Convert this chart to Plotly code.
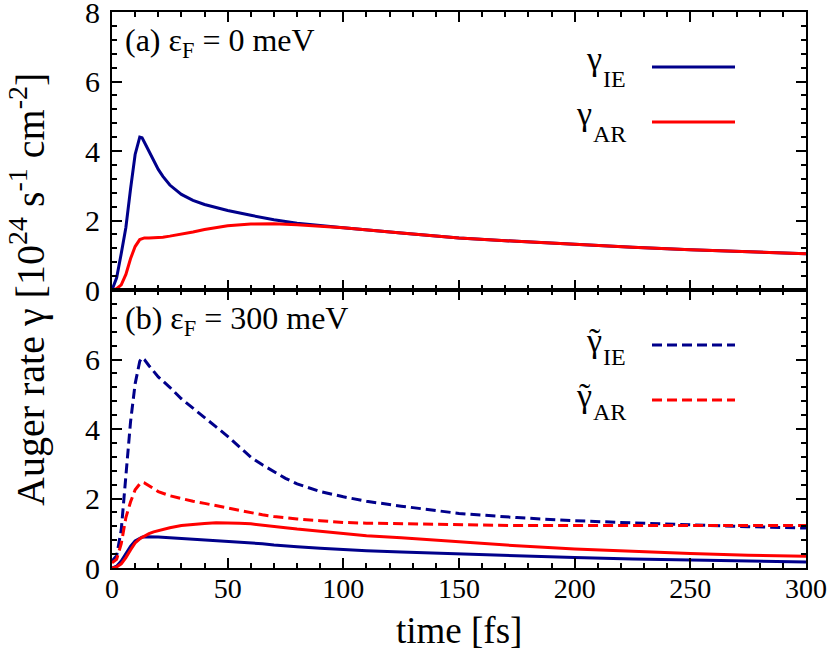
import plotly.graph_objects as go
from plotly.subplots import make_subplots

# ---- data ----
t_top = [0, 2, 4, 6, 8, 10, 12, 13, 14, 16, 18, 20, 22, 25, 30, 35, 40, 45, 50, 60, 70, 80, 90,
         100, 125, 150, 175, 200, 225, 250, 275, 300]
gamma_IE = [0, 0.35, 1.05, 1.8, 2.9, 3.9, 4.4, 4.38, 4.25, 4.0, 3.72, 3.47, 3.27, 3.02, 2.75,
            2.58, 2.46, 2.37, 2.29, 2.15, 2.02, 1.92, 1.85,
            1.79, 1.64, 1.5, 1.4, 1.31, 1.23, 1.16, 1.1, 1.04]
gamma_AR = [0, 0.04, 0.15, 0.45, 0.9, 1.25, 1.45, 1.48, 1.5, 1.5, 1.5, 1.51, 1.52, 1.55, 1.6,
            1.67, 1.74, 1.8, 1.85, 1.9, 1.91, 1.88, 1.83,
            1.79, 1.64, 1.5, 1.4, 1.31, 1.23, 1.16, 1.1, 1.04]

t_bot = [0, 2, 4, 6, 8, 10, 12, 13, 14, 16, 18, 20, 25, 30, 35, 40, 45, 50, 55, 60, 65, 70, 75,
         80, 90, 100, 110, 125, 150, 175, 200, 225, 250, 275, 300]
gamma_IE_t = [0.2, 0.35, 1.1, 2.7, 4.2, 5.3, 5.95, 6.05, 6.0, 5.82, 5.66, 5.5, 5.2, 4.87, 4.6,
              4.34, 4.06, 3.79, 3.5, 3.19, 2.97, 2.78, 2.58, 2.42, 2.2, 2.05, 1.92, 1.78, 1.57,
              1.45, 1.36, 1.3, 1.24, 1.19, 1.15]
gamma_AR_t = [0.15, 0.25, 0.7, 1.45, 1.9, 2.25, 2.42, 2.47, 2.45, 2.36, 2.28, 2.2, 2.08, 1.99,
              1.92, 1.86, 1.79, 1.72, 1.65, 1.59, 1.53, 1.48, 1.44, 1.41, 1.36, 1.31, 1.29, 1.27,
              1.24, 1.22, 1.22, 1.22, 1.22, 1.22, 1.22]
gamma_IE_b = [0, 0.05, 0.2, 0.42, 0.62, 0.78, 0.87, 0.89, 0.9, 0.9, 0.9, 0.89, 0.87, 0.85, 0.83,
              0.81, 0.79, 0.77, 0.75, 0.73, 0.7, 0.66, 0.63, 0.61, 0.57, 0.53, 0.5, 0.46, 0.4,
              0.35, 0.3, 0.26, 0.23, 0.2, 0.17]
gamma_AR_b = [0, 0.03, 0.12, 0.3, 0.52, 0.72, 0.84, 0.88, 0.92, 0.99, 1.04, 1.08, 1.16, 1.22,
              1.26, 1.28, 1.3, 1.3, 1.29, 1.27, 1.24, 1.2, 1.16, 1.12, 1.05, 0.98, 0.93, 0.87,
              0.75, 0.64, 0.55, 0.48, 0.42, 0.37, 0.34]

x_ticks = [0, 50, 100, 150, 200, 250, 300]
y_ticks_top = [0, 2, 4, 6, 8]
y_ticks_bot = [0, 2, 4, 6]

BLUE = "#00008b"
RED = "#ff0000"
FONT = "Liberation Serif"
DASH = "10px,5px"

# figure geometry (pixels)
W, H = 830, 656
ML, MR, MT, MB = 112, 24, 12, 88
PX0, PX1 = ML, W - MR
PY0, PY1 = MT, H - MB
PMID = (PY0 + PY1) / 2


def dx(px):
    return (px - PX0) / (PX1 - PX0)


def dy_top(py):
    return (PMID - py) / (PMID - PY0)


def dy_bot(py):
    return (PY1 - py) / (PY1 - PMID)


def center_from_baseline(baseline, size):
    return baseline - 0.3375 * size


fig = make_subplots(rows=2, cols=1, shared_xaxes=True, vertical_spacing=0)

fig.add_trace(go.Scatter(x=t_top, y=gamma_IE, mode="lines", line=dict(color=BLUE, width=3),
                         showlegend=False), row=1, col=1)
fig.add_trace(go.Scatter(x=t_top, y=gamma_AR, mode="lines", line=dict(color=RED, width=3),
                         showlegend=False), row=1, col=1)
fig.add_trace(go.Scatter(x=t_bot, y=gamma_IE_t, mode="lines",
                         line=dict(color=BLUE, width=3, dash=DASH), showlegend=False), row=2, col=1)
fig.add_trace(go.Scatter(x=t_bot, y=gamma_AR_t, mode="lines",
                         line=dict(color=RED, width=3, dash=DASH), showlegend=False), row=2, col=1)
fig.add_trace(go.Scatter(x=t_bot, y=gamma_IE_b, mode="lines", line=dict(color=BLUE, width=3),
                         showlegend=False), row=2, col=1)
fig.add_trace(go.Scatter(x=t_bot, y=gamma_AR_b, mode="lines", line=dict(color=RED, width=3),
                         showlegend=False), row=2, col=1)

axis_common = dict(showline=True, linewidth=2, linecolor="black", mirror="allticks",
                   ticks="inside", ticklen=10, tickwidth=2, tickcolor="black",
                   showgrid=False, zeroline=False, ticklabeloverflow="allow", automargin=False)
minor_x = dict(ticks="inside", ticklen=5, tickwidth=1.5, tickcolor="black", dtick=10, showgrid=False)
minor_y = dict(ticks="inside", ticklen=5, tickwidth=1.5, tickcolor="black", dtick=0.4, showgrid=False)

fig.update_xaxes(range=[0, 300], tickvals=x_ticks, minor=minor_x,
                 tickfont=dict(family=FONT, size=28, color="black"), **axis_common)
fig.update_xaxes(showticklabels=False, row=1, col=1)
fig.update_xaxes(showticklabels=True, ticklabelstandoff=-6, row=2, col=1)
fig.update_yaxes(range=[0, 8], tickvals=y_ticks_top, row=1, col=1, minor=minor_y,
                 ticklabelstandoff=4, tickfont=dict(family=FONT, size=30, color="black"),
                 **axis_common)
fig.update_yaxes(range=[0, 8], tickvals=y_ticks_bot, row=2, col=1, minor=minor_y,
                 ticklabelstandoff=4, tickfont=dict(family=FONT, size=30, color="black"),
                 **axis_common)

# legend-like labels: symbol text on the left, line sample on the right
G_SIZE, SUB_SIZE = 34, 24
legend_items = [
    # panel, main, sub, tilde, color, dash, line_y(px), gamma_x(px), sub_left(px), gamma_dy
    ("top", "γ", "IE", False, BLUE, "solid", 67, 594, 602, 3),
    ("top", "γ", "AR", False, RED, "solid", 122, 584, 592, 3),
    ("bot", "γ", "IE", True, BLUE, DASH, 345, 594, 602, 7),
    ("bot", "γ", "AR", True, RED, DASH, 400, 584, 592, 7),
]
for panel, main, sub, tilde, color, dash, ly, gx, sx, gdy in legend_items:
    xr = "x domain" if panel == "top" else "x2 domain"
    yr = "y domain" if panel == "top" else "y2 domain"
    fy = dy_top if panel == "top" else dy_bot
    fig.add_shape(type="line", xref=xr, yref=yr, x0=dx(652), x1=dx(735), y0=fy(ly), y1=fy(ly),
                  line=dict(color=color, width=3, dash=dash))
    gy = fy(center_from_baseline(ly + gdy, G_SIZE))
    fig.add_annotation(xref=xr, yref=yr, x=dx(gx), y=gy, xanchor="center", yanchor="middle",
                       text=main, showarrow=False, borderpad=0,
                       font=dict(family=FONT, size=G_SIZE, color="black"))
    if tilde:
        fig.add_annotation(xref=xr, yref=yr, x=dx(gx + 1), y=gy, xanchor="center", yanchor="middle",
                           text="\u02dc", showarrow=False, borderpad=0,
                           font=dict(family=FONT, size=G_SIZE, color="black"))
    fig.add_annotation(xref=xr, yref=yr, x=dx(sx), y=fy(center_from_baseline(ly + 20, SUB_SIZE)),
                       xanchor="left", yanchor="middle", text=sub, showarrow=False, borderpad=0,
                       font=dict(family=FONT, size=SUB_SIZE, color="black"))

PL_SIZE = 32
fig.add_annotation(xref="x domain", yref="y domain", x=dx(124), y=dy_top(center_from_baseline(53, PL_SIZE)),
                   xanchor="left", yanchor="middle", text="(a) ε<sub>F</sub> = 0 meV", showarrow=False,
                   borderpad=0, font=dict(family=FONT, size=PL_SIZE, color="black"))
fig.add_annotation(xref="x2 domain", yref="y2 domain", x=dx(124), y=dy_bot(center_from_baseline(331, PL_SIZE)),
                   xanchor="left", yanchor="middle", text="(b) ε<sub>F</sub> = 300 meV", showarrow=False,
                   borderpad=0, font=dict(family=FONT, size=PL_SIZE, color="black"))

fig.add_annotation(xref="paper", yref="paper", x=(27 - PX0) / (PX1 - PX0), y=0.5,
                   xanchor="center", yanchor="middle", textangle=-90, showarrow=False,
                   borderpad=0,
                   text="Auger rate γ [10<sup>24</sup> s<sup>-1</sup> cm<sup>-2</sup>]",
                   font=dict(family=FONT, size=40, color="black"))
fig.add_annotation(xref="paper", yref="paper", x=0.5, y=(PY1 - 630) / (PY1 - PY0),
                   xanchor="center", yanchor="middle", showarrow=False, text="time [fs]",
                   font=dict(family=FONT, size=37, color="black"))

fig.update_layout(width=W, height=H, margin=dict(l=ML, r=MR, t=MT, b=MB),
                  plot_bgcolor="white", paper_bgcolor="white", showlegend=False)

# the page body has a default 8px margin; remove it so the figure fills the window exactly
fig.write_html("out.html", config={"displayModeBar": False},
               post_script="document.body.style.margin='0px';")
